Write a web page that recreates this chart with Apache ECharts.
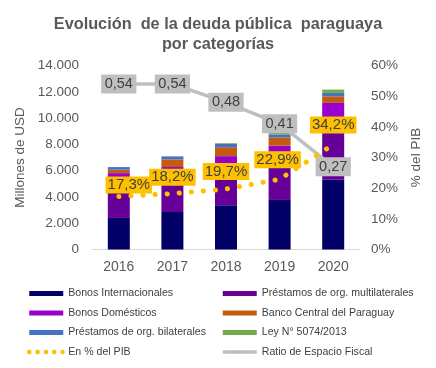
<!DOCTYPE html>
<html>
<head>
<meta charset="utf-8">
<script src="https://cdn.jsdelivr.net/npm/echarts@6/dist/echarts.min.js"></script>
<style>
html,body{margin:0;padding:0;background:#fff;}
#chart{width:436px;height:368px;}
</style>
</head>
<body>
<div id="chart"></div>
<script>
var categories = ['2016', '2017', '2018', '2019', '2020'];
var bonosInternacionales = [2400, 2855, 3364, 3770, 5315];
var prestamosMultilaterales = [2750, 2780, 2960, 3170, 4120];
var bonosDomesticos = [660, 640, 780, 960, 1720];
var bancoCentral = [260, 580, 680, 630, 500];
var prestamosBilaterales = [200, 230, 260, 230, 260];
var ley5074 = [0, 0, 50, 150, 250];
var deudaPctPIB = [17.3, 18.2, 19.7, 22.9, 34.2];
var ratioEspacioFiscal = [0.54, 0.54, 0.48, 0.41, 0.27];
var leftTicks = { min: 0, max: 14000, interval: 2000 };
var rightTicks = { min: 0, max: 60, interval: 10 };

var pibLabelOffsets = [[10, 2], [0, -3], [0, -4], [-2, -6], [0, -6]];

function fmtThousands(v) {
  var s = String(Math.round(v));
  return s.replace(/\B(?=(\d{3})+(?!\d))/g, '.');
}
function fmtComma(v, d) { return v.toFixed(d).replace('.', ','); }

var FONT = 'Liberation Sans, Arial, sans-serif';
var chart = echarts.init(document.getElementById('chart'), null, { renderer: 'canvas' });

function barSeries(name, data, color) {
  return {
    name: name, type: 'bar', stack: 'deuda', data: data, barWidth: 22,
    itemStyle: { color: color }, yAxisIndex: 0
  };
}

var barNamesLeft = ['Bonos Internacionales', 'Bonos Domésticos', 'Préstamos de org. bilaterales'];
var barNamesRight = ['Préstamos de org. multilaterales', 'Banco Central del Paraguay', 'Ley N° 5074/2013'];

var legendBase = {
  orient: 'vertical', top: 287, height: 80, padding: 0, itemWidth: 34, itemHeight: 5, itemGap: 6.5,
  textStyle: { fontFamily: FONT, fontSize: 10.6, color: '#404040', lineHeight: 13 },
  selectedMode: false
};

var option = {
  backgroundColor: '#ffffff',
  animation: false,
  title: {
    text: 'Evolución  de la deuda pública  paraguaya\npor categorías',
    left: 'center', top: 10,
    textStyle: { fontFamily: FONT, fontSize: 16.3, fontWeight: 'bold', color: '#595959', lineHeight: 19.5 }
  },
  grid: { left: 92, right: 76, top: 65.5, bottom: 118.5 },
  legend: [
    Object.assign({}, legendBase, {
      left: 27,
      data: barNamesLeft.map(function (n) { return { name: n, icon: 'rect' }; }).concat([
        { name: 'En % del PIB', lineStyle: { type: [0.1, 8.2], width: 4.5, cap: 'round', color: '#FFC000' } }
      ])
    }),
    Object.assign({}, legendBase, {
      left: 221,
      data: barNamesRight.map(function (n) { return { name: n, icon: 'rect' }; }).concat([
        { name: 'Ratio de Espacio Fiscal', lineStyle: { width: 3.5, color: '#BFBFBF' } }
      ])
    })
  ],
  xAxis: {
    type: 'category', data: categories,
    axisLine: { show: true, lineStyle: { color: '#D9D9D9', width: 1 } },
    axisTick: { show: false },
    axisLabel: { fontFamily: FONT, fontSize: 14, color: '#595959', margin: 11 }
  },
  yAxis: [
    {
      type: 'value', min: leftTicks.min, max: leftTicks.max, interval: leftTicks.interval,
      name: 'Millones de USD', nameLocation: 'middle', nameGap: 61,
      nameTextStyle: { fontFamily: FONT, fontSize: 13.5, color: '#595959' },
      axisLine: { show: false }, axisTick: { show: false }, splitLine: { show: false },
      axisLabel: { fontFamily: FONT, fontSize: 13.5, color: '#595959', margin: 13, formatter: fmtThousands }
    },
    {
      type: 'value', min: rightTicks.min, max: rightTicks.max, interval: rightTicks.interval,
      name: '% del PIB', nameLocation: 'middle', nameGap: 43,
      nameTextStyle: { fontFamily: FONT, fontSize: 13.5, color: '#595959' },
      axisLine: { show: false }, axisTick: { show: false }, splitLine: { show: false },
      axisLabel: { fontFamily: FONT, fontSize: 13.5, color: '#595959', margin: 11, formatter: '{value}%' }
    }
  ],
  series: [
    barSeries('Bonos Internacionales', bonosInternacionales, '#000066'),
    barSeries('Préstamos de org. multilaterales', prestamosMultilaterales, '#660099'),
    barSeries('Bonos Domésticos', bonosDomesticos, '#9900CC'),
    barSeries('Banco Central del Paraguay', bancoCentral, '#C55A11'),
    barSeries('Préstamos de org. bilaterales', prestamosBilaterales, '#4472C4'),
    barSeries('Ley N° 5074/2013', ley5074, '#70AD47'),
    {
      name: 'Ratio de Espacio Fiscal', type: 'line', yAxisIndex: 1, z: 3,
      data: ratioEspacioFiscal.map(function (v) { return v * 100; }),
      symbol: 'circle', symbolSize: 0.1, showSymbol: true,
      itemStyle: { color: '#BFBFBF' },
      lineStyle: { color: '#BFBFBF', width: 3.5 },
      label: {
        show: true, position: 'inside',
        formatter: function (p) { return fmtComma(ratioEspacioFiscal[p.dataIndex], 2); },
        fontFamily: FONT, fontSize: 14.5, color: '#404040', backgroundColor: '#BFBFBF',
        padding: [2, 3.5], lineHeight: 15
      }
    },
    {
      name: 'En % del PIB', type: 'line', yAxisIndex: 1, z: 4,
      data: deudaPctPIB.map(function (v, i) {
        return { value: v, label: { offset: pibLabelOffsets[i] } };
      }),
      symbol: 'circle', symbolSize: 0.1, showSymbol: true,
      itemStyle: { color: '#FFC000' },
      lineStyle: { color: '#FFC000', width: 5, type: [0.1, 12], cap: 'round' },
      label: {
        show: true, position: 'top', distance: 5,
        formatter: function (p) { return fmtComma(deudaPctPIB[p.dataIndex], 1) + '%'; },
        fontFamily: FONT, fontSize: 15, color: '#404040', backgroundColor: '#FFC000',
        padding: [1, 2], lineHeight: 15
      }
    }
  ]
};
chart.setOption(option);
</script>
</body>
</html>
